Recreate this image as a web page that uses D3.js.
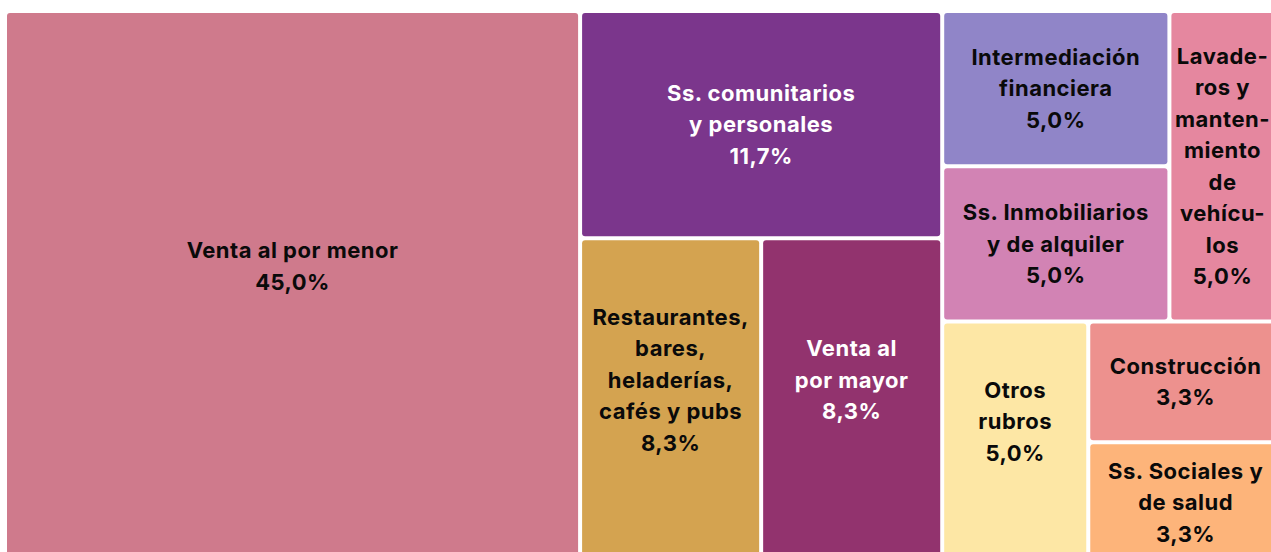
<!DOCTYPE html>
<html>
<head>
<meta charset="utf-8">
<script src="https://cdn.jsdelivr.net/npm/d3@7"></script>
<style>
  html, body { margin: 0; padding: 0; background: #fff; overflow: hidden; }
  svg { display: block; }
  text { font-family: Inter, "Noto Sans", sans-serif; font-weight: 700; }
</style>
</head>
<body>
<svg id="chart" width="1271" height="552"></svg>
<script>
// ---- data ----
const categories = [
  "Venta al por menor",
  "Ss. comunitarios y personales",
  "Restaurantes, bares, heladerías, cafés y pubs",
  "Venta al por mayor",
  "Intermediación financiera",
  "Ss. Inmobiliarios y de alquiler",
  "Lavaderos y mantenimiento de vehículos",
  "Otros rubros",
  "Construcción",
  "Ss. Sociales y de salud"
];
const labelLines = [
  ["Venta al por menor"],
  ["Ss. comunitarios", "y personales"],
  ["Restaurantes,", "bares,", "heladerías,", "cafés y pubs"],
  ["Venta al", "por mayor"],
  ["Intermediación", "financiera"],
  ["Ss. Inmobiliarios", "y de alquiler"],
  ["Lavade-", "ros y", "manten-", "miento", "de", "vehícu-", "los"],
  ["Otros", "rubros"],
  ["Construcción"],
  ["Ss. Sociales y", "de salud"]
];
const counts = [27, 7, 5, 5, 3, 3, 3, 3, 2, 2];
const colors = [
  "#CF7A8C", "#7B368C", "#D4A350", "#92336E", "#9085C8",
  "#D283B4", "#E5879F", "#FDE7A5", "#ED918E", "#FDB47A"
];

// ---- layout ----
const svg = d3.select("#chart");
const VW = 1271;
const W = 1274, H = 548, X0 = 7, Y0 = 13;
const labelBottom = 520 - Y0;
const lineH = 31.5;

const total = d3.sum(counts);
const fmt = v => d3.format(".1f")(v).replace(".", ",") + "%";

const root = d3.hierarchy({
  children: categories.map((c, i) => ({ name: c, lines: labelLines[i], value: counts[i], color: colors[i] }))
}).sum(d => d.value || 0);

d3.treemap()
  .tile(d3.treemapBinary)
  .size([W, H])
  .paddingInner(4)
  .round(false)(root);

const g = svg.append("g").attr("transform", `translate(${X0},${Y0})`);

const cell = g.selectAll("g.cell")
  .data(root.leaves())
  .join("g")
  .attr("class", "cell");

cell.append("rect")
  .attr("x", d => d.x0)
  .attr("y", d => d.y0)
  .attr("width", d => d.x1 - d.x0)
  .attr("height", d => d.y1 - d.y0)
  .attr("rx", 3)
  .attr("ry", 3)
  .attr("fill", d => d.data.color);

cell.each(function(d) {
  const lines = d.data.lines.concat([fmt(d.data.value / total * 100)]);
  const n = lines.length;
  const blockH = n * lineH;
  const avail = Math.min(d.y1, labelBottom) - d.y0;
  const cy = blockH > avail ? (d.y0 + d.y1) / 2 : (d.y0 + Math.min(d.y1, labelBottom)) / 2;
  const cx0 = (d.x0 + d.x1) / 2;
  const light = d3.hsl(d.data.color).l < 0.45;
  const t = d3.select(this).append("text")
    .attr("text-anchor", "middle")
    .attr("font-size", 22)
    .attr("letter-spacing", 0.5)
    .attr("fill", light ? "#ffffff" : "#0a0a0a");
  const spans = lines.map((ln, i) => t.append("tspan")
      .attr("x", cx0)
      .attr("y", cy - (n - 1) * lineH / 2 + i * lineH)
      .attr("dy", "0.35em")
      .text(ln));
  // keep the label inside the visible page
  const maxW = t.node().getBBox().width;
  const limit = VW - X0 - 1;
  const cx = Math.min(cx0, limit - maxW / 2);
  spans.forEach(s => s.attr("x", cx));
});
</script>
</body>
</html>
